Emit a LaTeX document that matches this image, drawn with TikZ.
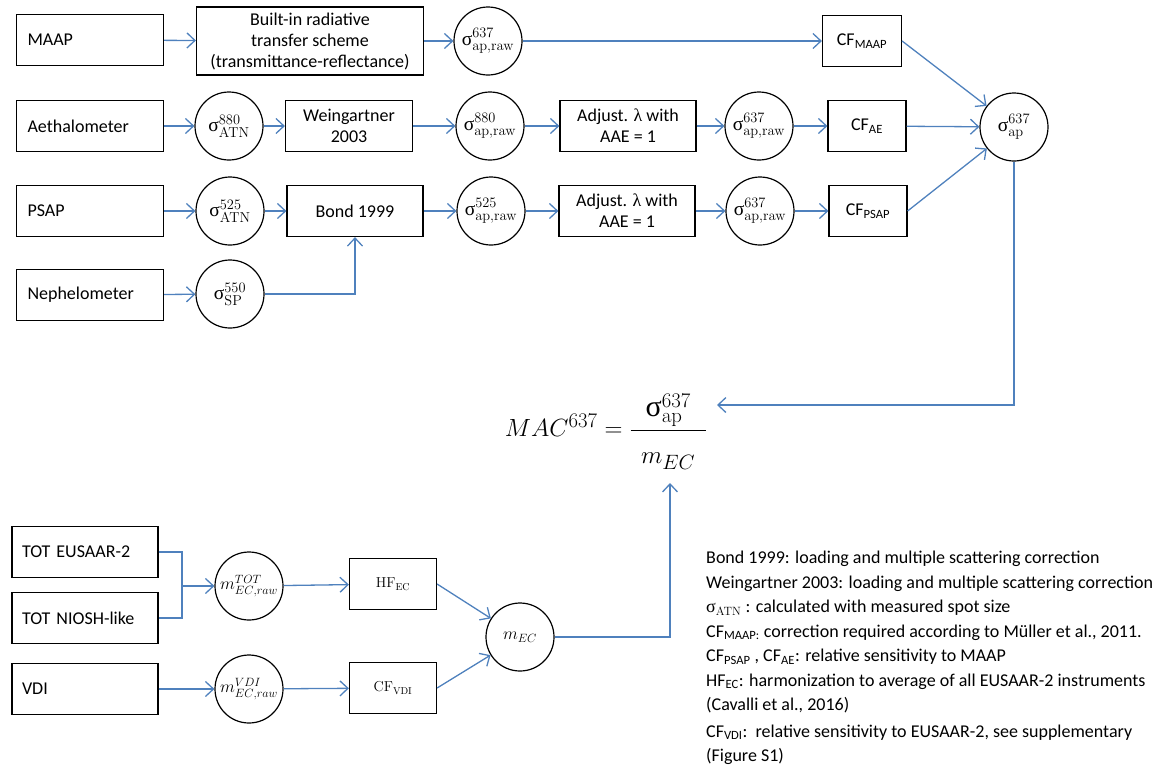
\documentclass[tikz,border=0pt]{standalone}
\usepackage{amsmath}
\usepackage[no-math]{fontspec}
\setmainfont{Carlito}
\newfontfamily\grkfont{Liberation Serif}
\usetikzlibrary{arrows.meta, calc}
\definecolor{linkblue}{RGB}{79,129,189}
\newcommand{\usig}{\text{\grkfont σ}}
\newcommand{\ulam}{{\grkfont λ}}

\begin{document}
\begin{tikzpicture}[
  x=1pt, y=-1pt,
  font=\fontsize{18}{21}\selectfont,
  instbox/.style={draw, line width=1.2pt, minimum height=51pt, text width=125pt, inner xsep=11pt, align=left},
  procbox/.style={draw, line width=1.2pt, align=center, minimum height=51pt, inner sep=2pt},
  quant/.style={draw, circle, line width=1.2pt, minimum size=68pt, inner sep=0pt, font=\fontsize{19.5}{22}\selectfont},
  massq/.style={quant, font=\fontsize{16.5}{20}\selectfont},
  link/.style={linkblue, line width=1.3pt},
  arrow/.style={link, -{Straight Barb[length=8pt, width=15pt]}}
]
\useasboundingbox (0,0) rectangle (1154,772);

% absorption: instruments
\node[instbox] (maap) at (90,40) {MAAP};
\node[instbox] (aeth) at (90,126) {Aethalometer};
\node[instbox] (psap) at (90,211) {PSAP};
\node[instbox] (neph) at (90,295) {Nephelometer};

% MAAP row
\node[procbox, minimum width=227pt, minimum height=68pt] (builtin) at (310,41) {Built-in radiative\\transfer scheme\\(transmittance-reflectance)};
\node[quant] (raw1) at (488,41) {$\usig^{637}_{\mathrm{ap{,}raw}}$};
\node[procbox, minimum width=79pt] (cfmaap) at (862,41) {CF\textsubscript{MAAP}};

% aethalometer row
\node[quant] (atn880) at (229,126) {$\usig^{880}_{\mathrm{ATN}}$};
\node[procbox, minimum width=127pt] (wein) at (349,126) {Weingartner\\2003};
\node[quant] (raw880) at (490,126) {$\usig^{880}_{\mathrm{ap{,}raw}}$};
\node[procbox, minimum width=136pt] (adj1) at (628,126) {Adjust. \ulam{} with\\AAE = 1};
\node[quant] (raw637b) at (759,126) {$\usig^{637}_{\mathrm{ap{,}raw}}$};
\node[procbox, minimum width=78pt] (cfae) at (867,126) {CF\textsubscript{AE}};
\node[quant] (sap) at (1014,127) {$\usig^{637}_{\mathrm{ap}}$};

% PSAP row
\node[quant] (atn525) at (230,211) {$\usig^{525}_{\mathrm{ATN}}$};
\node[procbox, minimum width=136pt] (bond) at (355,211) {Bond 1999};
\node[quant] (raw525) at (491,211) {$\usig^{525}_{\mathrm{ap{,}raw}}$};
\node[procbox, minimum width=136pt] (adj2) at (627,211) {Adjust. \ulam{} with\\AAE = 1};
\node[quant] (raw637c) at (760,211) {$\usig^{637}_{\mathrm{ap{,}raw}}$};
\node[procbox, minimum width=78pt] (cfpsap) at (868,211) {CF\textsubscript{PSAP}};

% nephelometer
\node[quant] (sp550) at (230,294) {$\usig^{550}_{\mathrm{SP}}$};

\draw[arrow] (maap) -- (builtin);
\draw[arrow] (builtin) -- (raw1);
\draw[arrow] (raw1) -- (cfmaap);
\draw[arrow] (cfmaap.east) -- (sap);
\draw[arrow] (aeth) -- (atn880);
\draw[arrow] (atn880) -- (wein);
\draw[arrow] (wein) -- (raw880);
\draw[arrow] (raw880) -- (adj1);
\draw[arrow] (adj1) -- (raw637b);
\draw[arrow] (raw637b) -- (cfae);
\draw[arrow] (cfae) -- (sap);
\draw[arrow] (psap) -- (atn525);
\draw[arrow] (atn525) -- (bond);
\draw[arrow] (bond) -- (raw525);
\draw[arrow] (raw525) -- (adj2);
\draw[arrow] (adj2) -- (raw637c);
\draw[arrow] (raw637c) -- (cfpsap);
\draw[arrow] (cfpsap.east) -- (sap);
\draw[arrow] (neph) -- (sp550);
\draw[arrow] (sp550.east) -| (bond.south);

% mass absorption cross section
\node (mac) at (606,432) {\fontsize{30}{36}\selectfont $MAC^{637} = \dfrac{\enspace\usig^{637}_{\mathrm{ap}}\rule[-9pt]{0pt}{9pt}\enspace}{\rule{0pt}{30pt}m_{EC}}$};
\coordinate (macin) at (717,405);
\coordinate (macbot) at (670,483);
\draw[arrow] (sap.south) |- (macin);

% EC: instruments
\node[instbox, text width=126pt, inner xsep=10pt] (toteus) at (85,552) {TOT EUSAAR-2};
\node[instbox, text width=126pt, inner xsep=10pt] (totnio) at (85,618) {TOT NIOSH-like};
\node[instbox, text width=126pt, inner xsep=10pt] (vdi) at (85,689) {VDI};
\coordinate (totjoin) at (182,586);

\node[massq] (mtot) at (249,586) {$m^{TOT}_{EC{,}raw}$};
\node[procbox, minimum width=87pt, font=\fontsize{14.5}{18}\selectfont] (hfec) at (393,584) {$\mathrm{HF}_{\mathrm{EC}}$};
\node[massq] (mvdi) at (249,689) {$m^{VDI}_{EC{,}raw}$};
\node[procbox, minimum width=87pt, font=\fontsize{14.5}{18}\selectfont] (cfvdi) at (393,688) {$\mathrm{CF}_{\mathrm{VDI}}$};
\node[massq] (mec) at (520,637) {$m_{EC}$};

\draw[link] (toteus.east) -| (totjoin) |- (totnio.east);
\draw[arrow] (totjoin) -- (mtot);
\draw[arrow] (mtot) -- (hfec);
\draw[arrow] (vdi) -- (mvdi);
\draw[arrow] (mvdi) -- (cfvdi);
\draw[arrow] (hfec.east) -- (mec);
\draw[arrow] (cfvdi.east) -- (mec);
\draw[arrow] (mec.east) -| (macbot);

% legend
\node[anchor=north west, align=left, inner sep=0pt, font=\fontsize{18}{24.5}\selectfont] (legend) at (706,551) {%
Bond 1999: loading and multiple scattering correction\\
Weingartner 2003: loading and multiple scattering correction\\
$\usig_{\mathrm{ATN}}$ : calculated with measured spot size\\
CF\textsubscript{MAAP:} correction required according to Müller et al., 2011.\\
CF\textsubscript{PSAP} , CF\textsubscript{AE}: relative sensitivity to MAAP\\
HF\textsubscript{EC}: harmonization to average of all EUSAAR-2 instruments\\
(Cavalli et al., 2016)\\[2pt]
CF\textsubscript{VDI}:\ \ relative sensitivity to EUSAAR-2, see supplementary\\
(Figure S1)};
\end{tikzpicture}
\end{document}
